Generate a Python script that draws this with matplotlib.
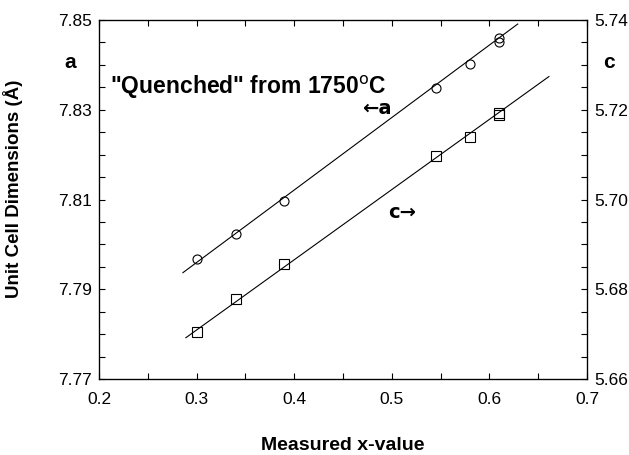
import matplotlib
matplotlib.use("Agg")
import matplotlib.pyplot as plt
from matplotlib.ticker import MultipleLocator

# Data
a_x = [0.30, 0.34, 0.39, 0.545, 0.58, 0.61, 0.61]
a_val = [7.7967, 7.8024, 7.8097, 7.8349, 7.8401, 7.8461, 7.8450]
c_x = [0.30, 0.34, 0.39, 0.545, 0.58, 0.61, 0.61]
c_val = [5.6705, 5.6779, 5.6856, 5.7098, 5.7139, 5.7193, 5.7188]
# fitted lines (endpoints as drawn)
a_fit_x = [0.286, 0.629]
a_fit_y = [7.7937, 7.8491]
c_fit_x = [0.289, 0.661]
c_fit_y = [5.6692, 5.7274]

x_ticks = [0.2, 0.3, 0.4, 0.5, 0.6, 0.7]
a_ticks = [7.77, 7.79, 7.81, 7.83, 7.85]
c_ticks = [5.66, 5.68, 5.70, 5.72, 5.74]

plt.rcParams['font.family'] = ['Liberation Sans', 'DejaVu Sans']

fig = plt.figure(figsize=(6.29, 4.55), dpi=100)
ax = fig.add_axes([99/629, 1-379/455, (587-99)/629, (379-20)/455])
ax2 = ax.twinx()

ax.plot(a_fit_x, a_fit_y, color='black', lw=0.8)
ax.plot(a_x, a_val, linestyle='none', marker='o', ms=6.5, mfc='none', mec='black', mew=0.8)
ax2.plot(c_fit_x, c_fit_y, color='black', lw=0.8)
ax2.plot(c_x, c_val, linestyle='none', marker='s', ms=6.5, mfc='none', mec='black', mew=0.8)

ax.set_xlim(0.2, 0.7)
ax.set_ylim(7.77, 7.85)
ax2.set_ylim(5.66, 5.74)
ax.set_xticks(x_ticks)
ax.set_xticklabels([f"{v:.1f}" for v in x_ticks])
ax.set_yticks(a_ticks)
ax.set_yticklabels([f"{v:.2f}" for v in a_ticks])
ax2.set_yticks(c_ticks)
ax2.set_yticklabels([f"{v:.2f}" for v in c_ticks])
ax.xaxis.set_minor_locator(MultipleLocator(0.05))
ax.yaxis.set_minor_locator(MultipleLocator(0.005))
ax2.yaxis.set_minor_locator(MultipleLocator(0.005))

ax.tick_params(axis='x', which='both', direction='in', top=True, length=4, width=0.8, labelsize=12.5, pad=9)
ax.tick_params(axis='y', which='both', direction='in', length=4, width=0.8, labelsize=12.5, pad=5)
ax2.tick_params(axis='y', which='both', direction='in', length=4, width=0.8, labelsize=12.5, pad=5)
for s in ax.spines.values():
    s.set_linewidth(0.9)

ax.set_xlabel("Measured x-value", fontsize=14, fontweight='heavy')
ax.xaxis.set_label_coords(0.5, -(437-379)/359)
ax.set_ylabel("Unit Cell Dimensions (Å)", fontsize=13.5, fontweight='heavy')
ax.yaxis.set_label_coords((23-99)/488, (379-189)/359)

fig.text(70/629, 1-63/455, "a", fontsize=15, fontweight='bold', ha='center', va='center')
fig.text(609/629, 1-63/455, "c", fontsize=15, fontweight='bold', ha='center', va='center')
fig.text(110/629, 1-87/455, '"Quenched" from 1750$^{\\mathrm{o}}$C', fontsize=16.5,
         fontweight='bold', ha='left', va='center')
fig.text(362/629, 1-108/455, "←a", fontsize=14, fontweight='bold', ha='left', va='center',
         family=['DejaVu Sans'])
fig.text(388/629, 1-213/455, "c→", fontsize=14, fontweight='bold', ha='left', va='center',
         family=['DejaVu Sans'])

fig.savefig("out.png", dpi=100)
